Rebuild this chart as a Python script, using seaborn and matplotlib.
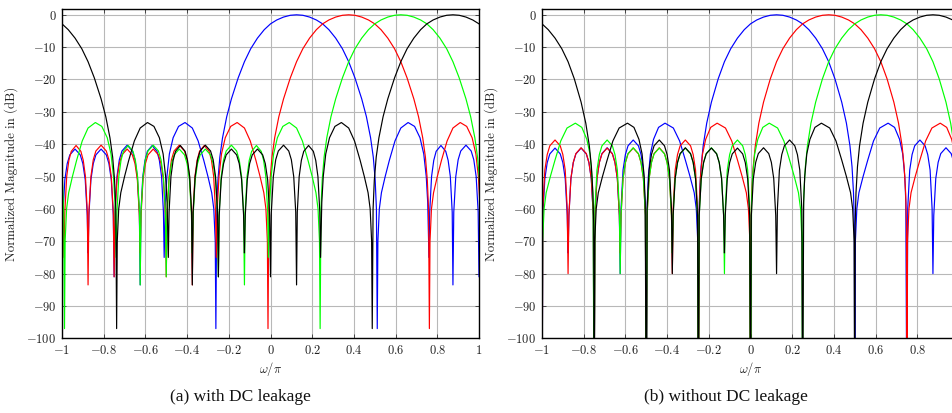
import numpy as np
import pandas as pd
import matplotlib
matplotlib.use('Agg')
import matplotlib.pyplot as plt
import seaborn as sns

# channel centres in omega/pi, plotted in this order
CHANNELS = ['ch1', 'ch2', 'ch3', 'ch4']
CENTERS = [0.125, 0.375, 0.625, 0.875]

# prototype magnitude (dB) vs. offset d from the channel centre.
# Only 0 <= d <= 1 is listed: the response is symmetric in d and periodic (period 2).
# (a) with DC leakage
D_A = [0, 0.03, 0.0625, 0.095, 0.125, 0.155, 0.1875, 0.22, 0.25, 0.28, 0.3125, 0.335,
       0.355, 0.368, 0.377, 0.383, 0.387,
       0.39, 0.397, 0.407, 0.425, 0.445, 0.472, 0.50, 0.535, 0.566, 0.592, 0.61, 0.622,
       0.629, 0.635,
       0.6385, 0.6475, 0.658, 0.6695, 0.6925, 0.7155, 0.727, 0.7375, 0.7465, 0.75,
       0.754, 0.7636, 0.775, 0.7875, 0.8125, 0.8375, 0.85, 0.8614, 0.871, 0.875,
       0.879, 0.8886, 0.9, 0.9125, 0.9375, 0.9625, 0.975, 0.9864, 0.996, 1.0]
DB_A = [0, -0.15, -0.7, -1.6, -2.8, -4.6, -7.2, -10.5, -14.5, -19.5, -26, -31.5,
        -38, -44, -51, -60, -97,
        -70, -60, -55, -50, -45, -39, -35, -33.3, -34.5, -38, -43, -50,
        -58, -75,
        -61, -50, -45, -42.2, -40.4, -42.2, -45, -50, -61, -83.5,
        -61, -50, -44.8, -42.1, -40.3, -42.1, -44.8, -50, -61, -81,
        -62, -51, -46, -43.3, -41.5, -43.3, -46, -51, -62, -73.5]

# (b) without DC leakage (nulls below -100 dB are cut by the axis)
D_B = [0, 0.03, 0.0625, 0.095, 0.125, 0.155, 0.1875, 0.22, 0.25, 0.28, 0.3125, 0.335,
       0.352, 0.362, 0.369, 0.373, 0.375,
       0.378, 0.385, 0.395, 0.415, 0.437, 0.465, 0.495, 0.535, 0.566, 0.59, 0.605, 0.615,
       0.62, 0.625,
       0.629, 0.6386, 0.65, 0.6625, 0.6875, 0.7125, 0.725, 0.7364, 0.746, 0.75,
       0.754, 0.7636, 0.775, 0.7875, 0.8125, 0.8375, 0.85, 0.8614, 0.871, 0.875,
       0.879, 0.8886, 0.9, 0.9125, 0.9375, 0.9625, 0.975, 0.9864, 0.996, 1.0]
DB_B = [0, -0.15, -0.7, -1.6, -2.8, -4.6, -7.2, -10.5, -14.5, -19.8, -27, -33.5,
        -40.5, -47, -55, -65, -130,
        -70, -60, -55, -50, -45, -39, -35, -33.5, -34.8, -38.5, -43, -50,
        -58, -130,
        -60, -48, -43.2, -40.5, -38.7, -40.5, -43.2, -48, -60, -80,
        -62, -50.6, -45.6, -42.9, -41.1, -42.9, -45.6, -50.6, -62, -130,
        -62, -50.7, -45.7, -43, -41.2, -43, -45.7, -50.7, -62, -73.5]

X_TICKS = [-1, -0.8, -0.6, -0.4, -0.2, 0, 0.2, 0.4, 0.6, 0.8, 1]
X_LABELS = ['$-1$', '$-0.8$', '$-0.6$', '$-0.4$', '$-0.2$', '$0$',
            '$0.2$', '$0.4$', '$0.6$', '$0.8$', '$1$']
Y_TICKS = [-100, -90, -80, -70, -60, -50, -40, -30, -20, -10, 0]
Y_LABELS = ['$%d$' % v for v in Y_TICKS]
CAPTIONS = ['(a) with DC leakage', '(b) without DC leakage']

palette = dict(zip(CHANNELS, ['#0000ff', '#ff0000', '#00ff00', '#000000']))
plt.rcParams['mathtext.fontset'] = 'cm'


def build_frame(d_half, db_half):
    d_half = np.asarray(d_half, dtype=float)
    db_half = np.asarray(db_half, dtype=float)
    d = np.concatenate([-d_half[::-1], d_half[1:]])
    db = np.concatenate([db_half[::-1], db_half[1:]])
    parts = []
    for ch, c in zip(CHANNELS, CENTERS):
        for shift in (0, -2):  # periodic copy to fill the wrapped part
            parts.append(pd.DataFrame({'channel': ch, 'copy': shift,
                                       'x': c + d + shift, 'db': db}))
    return pd.concat(parts, ignore_index=True)


frames = [build_frame(D_A, DB_A), build_frame(D_B, DB_B)]

W, H = 952, 413
fig = plt.figure(figsize=(W / 100, H / 100), dpi=100)
ax_left_px = [62, 542]
ax_w, ax_top, ax_bot = 417, 9.3, 338.3

for i, df in enumerate(frames):
    ax = fig.add_axes([ax_left_px[i] / W, (H - ax_bot) / H, ax_w / W, (ax_bot - ax_top) / H])
    ax.set_axisbelow(True)
    ax.grid(True, color='#b8b8b8', lw=0.8)
    sns.lineplot(data=df, x='x', y='db', hue='channel', hue_order=CHANNELS,
                 units='copy', estimator=None, sort=False, palette=palette,
                 legend=False, lw=0.85, ax=ax)
    ax.set_xlim(-1, 1)
    ax.set_ylim(-100, 1.7)
    ax.set_xticks(X_TICKS)
    # the right panel runs past the page edge, so its last label is not shown
    ax.set_xticklabels(X_LABELS if i == 0 else X_LABELS[:-1] + [''])
    ax.set_yticks(Y_TICKS)
    ax.set_yticklabels(Y_LABELS)
    ax.tick_params(direction='in', length=3, width=0.6, top=True, right=True,
                   labelsize=9, pad=4, colors='#333333', labelcolor='#222222')
    for s in ax.spines.values():
        s.set_linewidth(1.0)
        s.set_color('black')
    ax.set_xlabel(r'$\omega/\pi$', fontsize=9, color='#222222')
    ax.xaxis.set_label_coords(0.5, -0.065)
    ax.set_ylabel('Normalized Magnitude in (dB)', family='cmr10', fontsize=9.3,
                  color='#222222')
    ax.yaxis.set_label_coords(-44 / ax_w, 0.5)

fig.text(240 / W, 1 - 397 / H, CAPTIONS[0], ha='center', va='center',
         family='Liberation Serif', fontsize=12.5, color='#111111')
fig.text(726 / W, 1 - 397 / H, CAPTIONS[1], ha='center', va='center',
         family='Liberation Serif', fontsize=12.5, color='#111111')

fig.savefig('out.png', dpi=100)
